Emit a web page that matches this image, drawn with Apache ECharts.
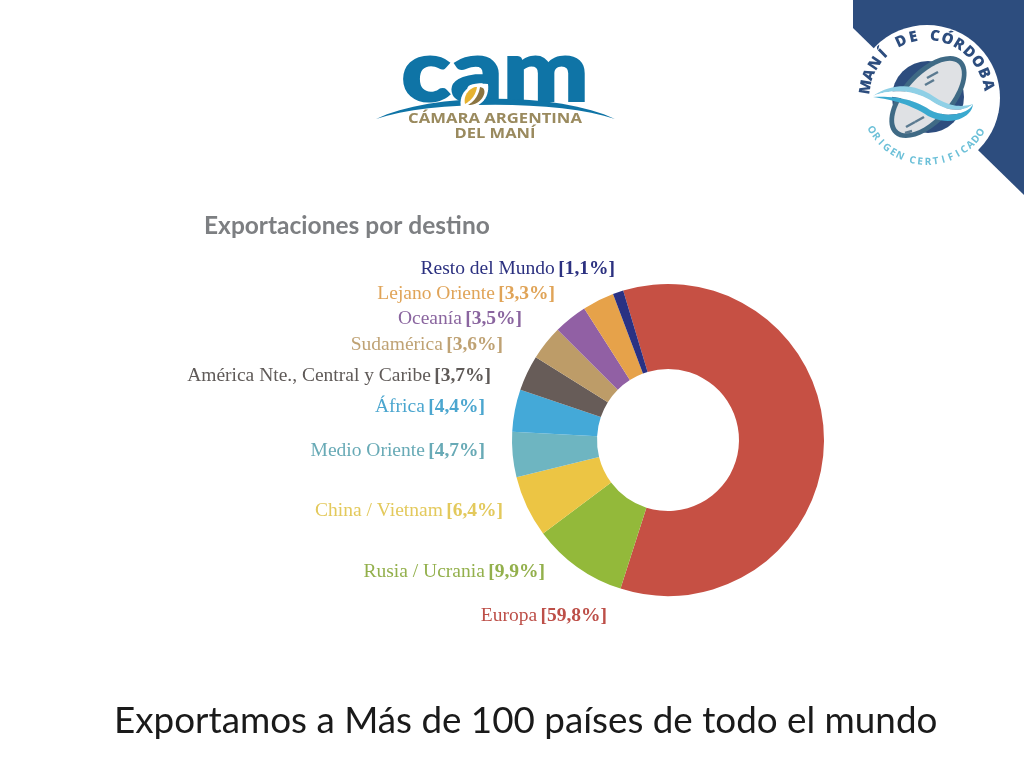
<!DOCTYPE html>
<html>
<head>
<meta charset="utf-8">
<title>Exportaciones por destino</title>
<script src="https://cdn.jsdelivr.net/npm/echarts@6/dist/echarts.min.js"></script>
<style>
  html, body { margin: 0; padding: 0; background: #fff; }
  #chart { width: 1024px; height: 768px; }
</style>
</head>
<body>
<div id="chart"></div>
<script>
const destinos = ['Europa', 'Rusia / Ucrania', 'China / Vietnam', 'Medio Oriente', 'África',
  'América Nte., Central y Caribe', 'Sudamérica', 'Oceanía', 'Lejano Oriente', 'Resto del Mundo'];
const porcentajes = [59.8, 9.9, 6.4, 4.7, 4.4, 3.7, 3.6, 3.5, 3.3, 1.1];
const colores = ['#c65044', '#93b93a', '#ecc544', '#6eb5c1', '#44a9d8',
  '#675c58', '#bd9c68', '#9160a4', '#e6a24a', '#2a3183'];
const coloresTexto = ['#bd4f48', '#93b04c', '#e3c95c', '#68aab6', '#4ba6cf',
  '#5f5a58', '#bfa274', '#8a659f', '#e0a458', '#2c3180'];

// right end and middle of each label, as laid out on the slide
const labelX = [607, 545, 503, 485, 485, 491, 503, 522, 555, 615];
const labelY = [616, 572, 511, 451, 407, 376, 345, 319, 294, 269];

const chart = echarts.init(document.getElementById('chart'));

// graphic has no path type here, so sample cubic curves into a polygon
function curveShape(start, segments, fill) {
  const points = [start];
  let p0 = start;
  segments.forEach(([c1, c2, p3]) => {
    for (let k = 1; k <= 16; k++) {
      const t = k / 16, u = 1 - t;
      points.push([0, 1].map(d =>
        u * u * u * p0[d] + 3 * u * u * t * c1[d] + 3 * u * t * t * c2[d] + t * t * t * p3[d]));
    }
    p0 = p3;
  });
  return { type: 'polygon', shape: { points }, style: { fill } };
}

// ring of letters on the badge, spaces take a narrower step
function arcLetters(text, cx, cy, r, startDeg, stepDeg, bottom, style) {
  let deg = startDeg;
  return Array.from(text).map(ch => {
    const a = deg * Math.PI / 180;
    const el = {
      type: 'text',
      x: cx + r * Math.sin(a),
      y: cy - r * Math.cos(a),
      rotation: bottom ? -(deg - 180) * Math.PI / 180 : -a,
      style: { text: ch, align: 'center', verticalAlign: 'middle', ...style }
    };
    deg += ch === ' ' ? stepDeg * 0.7 : stepDeg;
    return el;
  });
}

function dash(x1, y1, x2, y2) {
  return { type: 'line', shape: { x1, y1, x2, y2 }, style: { stroke: '#5b7a90', lineWidth: 2.5 } };
}

const badge = [
  { type: 'polygon', shape: { points: [[853, 0], [1024, 0], [1024, 195], [853, 28]] }, style: { fill: '#2d4d7e' } },
  { type: 'circle', shape: { cx: 927, cy: 98, r: 73 }, style: { fill: '#fff' } },
  { type: 'circle', shape: { cx: 928, cy: 97, r: 36 }, style: { fill: '#2d4d7e' } },
  { type: 'ellipse', x: 928, y: 97, rotation: 0.84, shape: { cx: 0, cy: 0, rx: 50, ry: 26 }, style: { fill: '#3f6a85' } },
  { type: 'ellipse', x: 928, y: 97, rotation: 0.84, shape: { cx: 0, cy: 0, rx: 45, ry: 21 }, style: { fill: '#dfe1e4' } },
  dash(927, 78, 938, 72), dash(925, 85, 934, 80), dash(906, 127, 915, 122), dash(915, 122, 924, 117), dash(905, 133, 912, 131),
  curveShape([873, 96], [[[893, 82], [915, 84], [933, 96]], [[948, 106], [960, 108], [973, 104]], [[965, 112], [948, 112], [933, 102]], [[915, 90], [893, 88], [873, 96]]], '#8fd0e6'),
  curveShape([873, 96], [[[893, 88], [915, 90], [933, 102]], [[948, 112], [965, 112], [973, 104]], [[970, 112], [950, 120], [930, 110]], [[912, 98], [893, 96], [873, 96]]], '#ffffff'),
  curveShape([873, 97], [[[893, 96], [912, 98], [930, 110]], [[950, 120], [970, 112], [973, 104]], [[972, 118], [950, 127], [928, 116]], [[910, 104], [893, 100], [873, 97]]], '#3aa9cf'),
  ...arcLetters('MANÍ DE CÓRDOBA', 927, 98, 62, -80, 11.8, false, { font: '800 15px "Open Sans"', fill: '#2d4d7e' }),
  ...arcLetters('ORIGEN CERTIFICADO', 927, 98, 64, 240, -7, true, { font: 'bold 10px "Open Sans"', fill: '#6cc0d8' })
];

const logo = [
  { type: 'text', x: 495, y: 74, scaleX: 1.2, style: { text: 'cam', align: 'center', verticalAlign: 'middle', font: '900 85px Lato', fill: '#0f74a6', stroke: '#0f74a6', lineWidth: 2 } },
  curveShape([376, 119], [[[430, 92], [560, 92], [615, 119]], [[560, 100], [430, 100], [376, 119]]], '#0f74a6'),
  curveShape([461, 108], [[[458, 92], [470, 82], [488, 84]], [[490, 98], [480, 110], [461, 108]]], '#ffffff'),
  curveShape([465, 104], [[[463, 95], [470, 87], [477, 87]], [[476, 94], [472, 100], [465, 104]]], '#e6b22f'),
  curveShape([468, 105], [[[475, 101], [479, 94], [480, 87]], [[490, 88], [482, 106], [468, 105]]], '#8b7440'),
  { type: 'text', x: 495, y: 119, scaleX: 1.19, style: { text: 'CÁMARA ARGENTINA', align: 'center', verticalAlign: 'middle', font: 'bold 14px "Open Sans"', fill: '#9a8a5e' } },
  { type: 'text', x: 495, y: 134, scaleX: 1.18, style: { text: 'DEL MANÍ', align: 'center', verticalAlign: 'middle', font: 'bold 14px "Open Sans"', fill: '#9a8a5e' } }
];

chart.setOption({
  animation: false,
  backgroundColor: '#fff',
  title: [
    {
      text: 'Exportaciones por destino', left: 204, top: 214, padding: 0,
      textStyle: { fontFamily: 'Lato', fontSize: 24.5, fontWeight: 'bold', color: '#7d7f82' }
    },
    {
      text: 'Exportamos a Más de 100 países de todo el mundo', left: 114, top: 703, padding: 0,
      textStyle: { fontFamily: 'Lato', fontSize: 36.8, fontWeight: 'normal', color: '#1a1a1a' }
    }
  ],
  graphic: { elements: [...logo, ...badge] },
  series: [{
    type: 'pie',
    center: [668, 440],
    radius: [71, 156],
    startAngle: 106.7,
    avoidLabelOverlap: false,
    labelLine: { show: false },
    label: {
      show: true,
      position: 'outside',
      formatter: p => `{n|${p.name}} {v|[${String(p.value).replace('.', ',')}%]}`,
      rich: {
        n: { fontFamily: '"Liberation Serif"', fontSize: 19.5 },
        v: { fontFamily: '"Liberation Serif"', fontSize: 19.5, fontWeight: 'bold' }
      }
    },
    labelLayout: p => ({
      x: labelX[p.dataIndex],
      y: labelY[p.dataIndex],
      align: 'right',
      verticalAlign: 'middle'
    }),
    data: destinos.map((name, i) => ({
      name,
      value: porcentajes[i],
      itemStyle: { color: colores[i] },
      label: { color: coloresTexto[i] }
    }))
  }]
});
</script>
</body>
</html>
